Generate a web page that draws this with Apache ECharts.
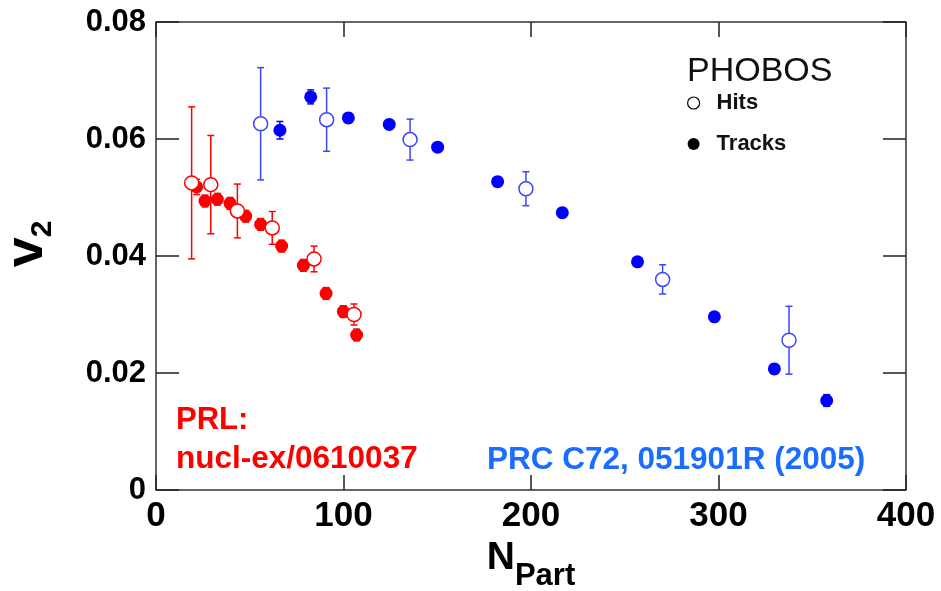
<!DOCTYPE html>
<html>
<head>
<meta charset="utf-8">
<script src="https://cdn.jsdelivr.net/npm/echarts@6/dist/echarts.min.js"></script>
<style>html,body{margin:0;padding:0;background:#fff}#c{width:941px;height:591px}</style>
</head>
<body>
<div id="c"></div>
<script>
// ---- data ----
const redHitsN   = [19.0, 29.2, 43.4, 62.0, 84.3, 105.6];
const redHitsV   = [0.0525, 0.0522, 0.0477, 0.0448, 0.0395, 0.0300];
const redHitsErr = [0.0130, 0.0084, 0.0046, 0.0028, 0.0022, 0.0018];

const redTracksN   = [21.7, 26.1, 32.7, 39.5, 47.8, 55.8, 67.0, 78.6, 90.7, 99.9, 107.0];
const redTracksV   = [0.0518, 0.0494, 0.0497, 0.0490, 0.0468, 0.0454, 0.0417, 0.0384, 0.0336, 0.0305, 0.0265];
const redTracksErr = [0.0013, 0.0010, 0.0010, 0.0010, 0.0010, 0.0010, 0.0010, 0.0010, 0.0010, 0.0010, 0.0010];

const blueHitsN   = [55.8, 91.0, 135.5, 197.3, 270.2, 337.6];
const blueHitsV   = [0.0626, 0.0633, 0.0599, 0.0515, 0.0360, 0.0256];
const blueHitsErr = [0.0096, 0.0054, 0.0035, 0.0029, 0.0025, 0.0058];

const blueTracksN   = [66.1, 82.5, 102.6, 124.4, 150.2, 182.2, 216.7, 256.8, 297.8, 329.8, 357.7];
const blueTracksV   = [0.0615, 0.0672, 0.0636, 0.0625, 0.0586, 0.0527, 0.0474, 0.0390, 0.0296, 0.0207, 0.0153];
const blueTracksErr = [0.0015, 0.0012, 0.0008, 0.0008, 0.0007, 0.0007, 0.0007, 0.0007, 0.0007, 0.0008, 0.0010];

const xTickLabels = ['0', '100', '200', '300', '400'];
const yTickLabels = ['0', '0.02', '0.04', '0.06', '0.08'];

// ---- helpers ----
const FONT = '"Liberation Sans", Arial, sans-serif';
const RED = '#ff0000', BLUE = '#0000ff', BLUE_OPEN = '#3a46ff';
function pts(n, v) { return n.map((x, i) => [x, v[i]]); }
function errPts(n, v, e) { return n.map((x, i) => [x, v[i], e[i]]); }
function errSeries(data, color, capHalf, z) {
  return {
    type: 'custom', xAxisIndex: 0, yAxisIndex: 0, z: z, silent: true,
    data: data,
    renderItem: function (params, api) {
      const x = api.value(0), y = api.value(1), e = api.value(2);
      const top = api.coord([x, y + e]), bot = api.coord([x, y - e]);
      const st = { stroke: color, lineWidth: 1.5 };
      return {
        type: 'group',
        children: [
          { type: 'line', shape: { x1: top[0], y1: top[1], x2: bot[0], y2: bot[1] }, style: st },
          { type: 'line', shape: { x1: top[0] - capHalf, y1: top[1], x2: top[0] + capHalf, y2: top[1] }, style: st },
          { type: 'line', shape: { x1: bot[0] - capHalf, y1: bot[1], x2: bot[0] + capHalf, y2: bot[1] }, style: st }
        ]
      };
    }
  };
}

const lineSt = { color: '#333', width: 1.5 };
const tickSt = { color: '#222', width: 1.5 };
const chart = echarts.init(document.getElementById('c'));
chart.setOption({
  animation: false,
  backgroundColor: '#fff',
  grid: { left: 156, right: 35, top: 22, bottom: 101, outerBoundsMode: 'none', containLabel: false },
  title: {
    text: 'PHOBOS', left: 682, top: 50,
    textStyle: { fontFamily: FONT, fontSize: 34, fontWeight: 'normal', color: '#111' }
  },
  legend: {
    orient: 'vertical', left: 682, top: 87, itemGap: 19, selectedMode: false,
    itemWidth: 12, itemHeight: 12,
    textStyle: { fontFamily: FONT, fontSize: 22, fontWeight: 'bold', color: '#111', padding: [0, 0, 0, 12] },
    data: [
      { name: 'Hits', icon: 'circle', itemStyle: { color: '#fff', borderColor: '#000', borderWidth: 1.2 } },
      { name: 'Tracks', icon: 'circle', itemStyle: { color: '#000', borderWidth: 0 } }
    ]
  },
  xAxis: [
    {
      type: 'value', position: 'bottom', min: 0, max: 400, interval: 100,
      axisLine: { show: true, onZero: false, lineStyle: lineSt },
      axisTick: { show: true, inside: true, length: 15, lineStyle: tickSt },
      splitLine: { show: false },
      axisLabel: {
        margin: 9, fontFamily: FONT, fontSize: 35, fontWeight: 'bold', color: '#000',
        formatter: (v, i) => xTickLabels[i]
      },
      name: '{n|N}{s|Part}', nameLocation: 'middle', nameGap: 45,
      nameTextStyle: {
        rich: {
          n: { fontFamily: FONT, fontSize: 39, fontWeight: 'bold', color: '#000', verticalAlign: 'bottom', padding: [0, 0, 14, 0] },
          s: { fontFamily: FONT, fontSize: 31, fontWeight: 'bold', color: '#000', verticalAlign: 'bottom' }
        }
      }
    },
    {
      type: 'value', position: 'top', min: 0, max: 400, interval: 100,
      axisLine: { show: true, onZero: false, lineStyle: lineSt },
      axisTick: { show: true, inside: true, length: 15, lineStyle: tickSt },
      axisLabel: { show: false }, splitLine: { show: false }
    }
  ],
  yAxis: [
    {
      type: 'value', position: 'left', min: 0, max: 0.08, interval: 0.02,
      axisLine: { show: true, onZero: false, lineStyle: lineSt },
      axisTick: { show: true, inside: true, length: 23, lineStyle: tickSt },
      splitLine: { show: false },
      axisLabel: {
        margin: 10, fontFamily: FONT, fontSize: 31, fontWeight: 'bold', color: '#000',
        formatter: (v, i) => yTickLabels[i]
      },
      name: '{v|v}{s|2}', nameLocation: 'middle', nameRotate: 90, nameGap: 98,
      nameTextStyle: {
        rich: {
          v: { fontFamily: FONT, fontSize: 54, fontWeight: 'bold', color: '#000', verticalAlign: 'bottom', padding: [0, 0, 4, 24] },
          s: { fontFamily: FONT, fontSize: 30, fontWeight: 'bold', color: '#000', verticalAlign: 'bottom' }
        }
      }
    },
    {
      type: 'value', position: 'right', min: 0, max: 0.08, interval: 0.02,
      axisLine: { show: true, onZero: false, lineStyle: lineSt },
      axisTick: { show: true, inside: true, length: 23, lineStyle: tickSt },
      axisLabel: { show: false }, splitLine: { show: false }
    }
  ],
  graphic: [
    { type: 'text', left: 176, top: 405, silent: true,
      style: { text: 'PRL:', fill: RED, font: 'bold 31px ' + FONT } },
    { type: 'text', left: 176, top: 443, silent: true,
      style: { text: 'nucl-ex/0610037', fill: RED, font: 'bold 31.5px ' + FONT } },
    { type: 'text', left: 487, top: 444, silent: true,
      style: { text: 'PRC C72, 051901R (2005)', fill: '#1a6dff', font: 'bold 31.5px ' + FONT } }
  ],
  series: [
    errSeries(errPts(redTracksN, redTracksV, redTracksErr), RED, 3.5, 2),
    errSeries(errPts(blueTracksN, blueTracksV, blueTracksErr), BLUE, 3.5, 2),
    {
      name: 'Tracks', type: 'scatter', z: 3, symbol: 'circle', symbolSize: 13,
      itemStyle: { color: RED, opacity: 1 }, data: pts(redTracksN, redTracksV)
    },
    {
      name: 'Tracks', type: 'scatter', z: 3, symbol: 'circle', symbolSize: 13,
      itemStyle: { color: BLUE, opacity: 1 }, data: pts(blueTracksN, blueTracksV)
    },
    errSeries(errPts(redHitsN, redHitsV, redHitsErr), RED, 3.5, 4),
    errSeries(errPts(blueHitsN, blueHitsV, blueHitsErr), BLUE_OPEN, 3.5, 4),
    {
      name: 'Hits', type: 'scatter', z: 5, symbol: 'circle', symbolSize: 14,
      itemStyle: { color: '#fff', borderColor: RED, borderWidth: 1.5, opacity: 1 },
      data: pts(redHitsN, redHitsV)
    },
    {
      name: 'Hits', type: 'scatter', z: 5, symbol: 'circle', symbolSize: 14,
      itemStyle: { color: '#fff', borderColor: BLUE_OPEN, borderWidth: 1.5, opacity: 1 },
      data: pts(blueHitsN, blueHitsV)
    }
  ]
});
</script>
</body>
</html>
